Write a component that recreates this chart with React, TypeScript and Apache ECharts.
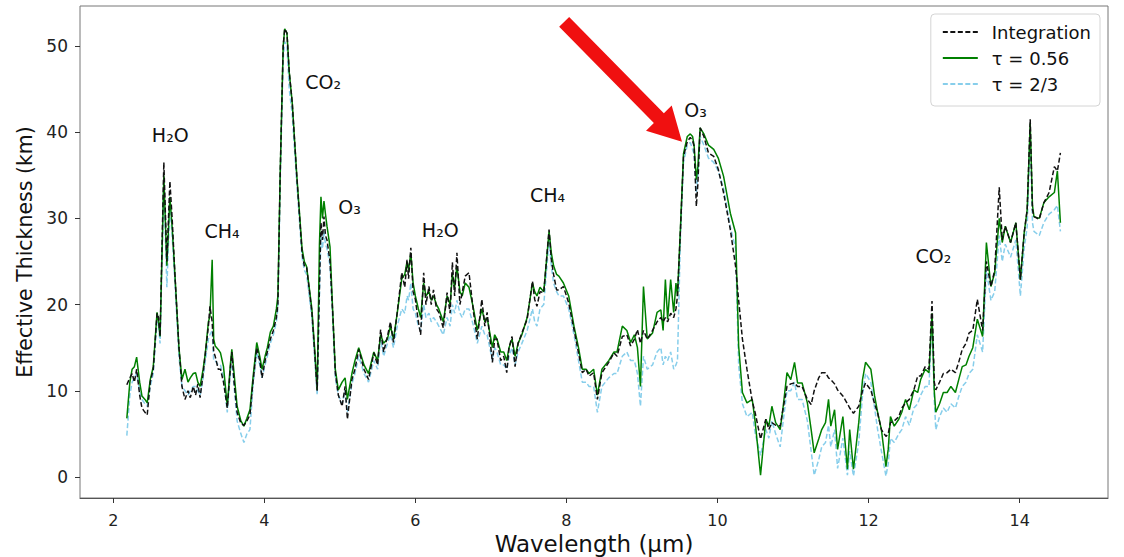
import React, { useEffect, useRef } from "react";
import * as echarts from "echarts";

// Wavelength grid (µm)
const wavelength = [
  2.18, 2.22, 2.25, 2.28, 2.31, 2.35, 2.38, 2.42, 2.45, 2.49, 2.53, 2.58, 2.60, 2.62, 2.67, 2.71, 2.75, 2.78, 2.82, 2.87, 2.91, 2.95, 2.99,
  3.02, 3.06, 3.09, 3.12, 3.15, 3.19, 3.22, 3.26, 3.28, 3.31, 3.33, 3.35, 3.39, 3.42, 3.46, 3.51, 3.55, 3.57, 3.60, 3.64, 3.69, 3.73, 3.77, 3.81, 3.85, 3.90, 3.94, 3.97,
  4.01, 4.04, 4.08, 4.12, 4.16, 4.18, 4.21, 4.25, 4.27, 4.30, 4.33, 4.37, 4.43, 4.50, 4.53, 4.56, 4.63, 4.67, 4.70, 4.73, 4.75, 4.77, 4.79, 4.81, 4.83, 4.87, 4.91, 4.94, 4.98,
  5.03, 5.07, 5.10, 5.16, 5.20, 5.25, 5.32, 5.38, 5.45, 5.50, 5.54, 5.58, 5.63, 5.67, 5.71, 5.76, 5.82, 5.86, 5.89, 5.91, 5.94, 5.97,
  6.00, 6.04, 6.07, 6.11, 6.14, 6.18, 6.21, 6.24, 6.28, 6.31, 6.37, 6.42, 6.46, 6.49, 6.52, 6.55, 6.59, 6.62, 6.66, 6.71, 6.77, 6.82, 6.88, 6.92, 6.95,
  7.02, 7.05, 7.08, 7.13, 7.17, 7.21, 7.24, 7.28, 7.32, 7.36, 7.41, 7.48, 7.55, 7.58, 7.61, 7.65, 7.70, 7.77, 7.80, 7.83, 7.87, 7.90, 7.96,
  8.03, 8.10, 8.16, 8.21, 8.26, 8.30, 8.36, 8.41, 8.47, 8.56, 8.63, 8.67, 8.74, 8.80, 8.85, 8.90, 8.94, 8.98,
  9.02, 9.07, 9.14, 9.20, 9.25, 9.28, 9.31, 9.34, 9.38, 9.42, 9.45, 9.47, 9.51, 9.55, 9.60, 9.64, 9.67, 9.69, 9.72, 9.74, 9.77, 9.82, 9.88, 9.95,
  10.01, 10.08, 10.17, 10.24, 10.28, 10.33, 10.39, 10.46, 10.50, 10.57, 10.64, 10.68, 10.72, 10.77, 10.83, 10.87, 10.92, 10.97,
  11.02, 11.06, 11.12, 11.19, 11.24, 11.28, 11.34, 11.38, 11.43, 11.47, 11.50, 11.55, 11.59, 11.66, 11.72, 11.75, 11.80, 11.87, 11.92, 11.96,
  12.03, 12.08, 12.12, 12.17, 12.23, 12.26, 12.29, 12.34, 12.40, 12.44, 12.49, 12.54, 12.60, 12.65, 12.69, 12.75, 12.80, 12.84, 12.87, 12.89, 12.94, 12.99,
  13.04, 13.09, 13.15, 13.20, 13.24, 13.29, 13.33, 13.38, 13.44, 13.51, 13.56, 13.62, 13.67, 13.73, 13.77, 13.81, 13.88, 13.95,
  14.01, 14.06, 14.10, 14.14, 14.17, 14.19, 14.26, 14.32, 14.39, 14.46, 14.50, 14.54,
];

// Effective thickness (km) — Integration
const integration = [
  10.7, 11.5, 12.0, 11.0, 12.5, 9.5, 8.0, 7.5, 7.2, 11.0, 12.5, 19.0, 18.5, 16.3, 36.5, 25.0, 34.3, 30.0, 22.9, 15.0, 10.5, 9.0, 10.0,
  9.2, 10.5, 9.5, 10.8, 9.2, 12.0, 14.4, 17.5, 19.8, 18.0, 14.5, 14.0, 12.5, 12.5, 11.0, 8.0, 12.5, 14.5, 11.0, 7.5, 6.2, 6.0, 6.5, 7.2, 11.0, 15.0, 13.5, 11.5,
  13.5, 14.5, 16.0, 17.0, 18.5, 20.0, 35.0, 50.0, 52.0, 51.5, 47.0, 43.4, 34.9, 26.0, 24.5, 24.4, 19.1, 14.0, 10.0, 22.0, 29.5, 27.5, 30.2, 28.0, 27.5, 25.0, 18.3, 12.1, 9.5,
  8.2, 10.5, 6.7, 11.3, 12.5, 14.8, 12.5, 11.3, 14.4, 13.0, 17.1, 14.5, 16.3, 18.0, 15.6, 19.1, 23.7, 22.0, 25.2, 23.0, 26.6, 21.5,
  20.6, 18.0, 16.5, 23.7, 20.0, 22.1, 20.0, 21.7, 19.5, 19.1, 17.3, 21.4, 19.0, 24.9, 21.0, 26.0, 20.0, 21.4, 23.3, 23.7, 19.1, 16.0, 20.6, 17.5, 19.1,
  13.3, 16.0, 16.0, 13.5, 14.0, 12.1, 15.0, 16.3, 12.8, 15.5, 16.7, 18.3, 22.7, 20.6, 19.8, 21.5, 21.4, 28.7, 25.2, 23.5, 21.7, 21.7, 22.1,
  20.2, 17.1, 14.4, 12.1, 12.5, 11.7, 12.1, 9.0, 12.1, 13.3, 14.4, 14.0, 16.3, 16.5, 15.2, 16.0, 17.1, 15.5,
  17.0, 16.0, 17.0, 18.0, 18.5, 18.0, 18.5, 18.0, 19.0, 18.5, 19.5, 21.0, 28.7, 37.2, 38.9, 39.4, 39.0, 38.4, 31.4, 34.0, 40.5, 39.5, 37.6, 37.2,
  35.7, 33.0, 28.7, 24.4, 20.5, 16.0, 12.5, 8.8, 7.4, 4.4, 6.7, 5.5, 6.3, 6.0, 5.9, 8.0, 10.5, 10.8,
  10.9, 10.5, 10.5, 9.0, 8.4, 10.0, 11.5, 12.1, 12.1, 11.5, 11.3, 10.8, 10.1, 9.4, 8.5, 8.0, 7.4, 8.2, 10.0, 10.9,
  10.1, 8.5, 7.4, 5.5, 4.7, 5.0, 6.3, 6.5, 7.0, 8.0, 8.6, 9.0, 10.1, 11.7, 11.7, 12.8, 12.5, 20.4, 11.0, 10.1, 11.0, 12.0,
  12.1, 12.5, 12.1, 13.5, 14.8, 15.5, 16.7, 17.0, 20.6, 17.0, 25.0, 22.1, 24.0, 33.6, 27.5, 29.1, 27.2, 29.5,
  22.9, 28.3, 31.0, 41.5, 31.0, 30.2, 29.9, 31.8, 33.0, 36.0, 35.5, 37.6,
];

// τ = 0.56
const tau056 = [
  6.8, 11.0, 12.5, 12.8, 13.9, 11.0, 9.4, 9.0, 8.6, 11.3, 12.8, 19.1, 18.0, 16.3, 35.0, 24.5, 32.5, 29.0, 23.0, 15.0, 11.3, 12.5, 11.0,
  11.5, 12.0, 12.1, 11.0, 10.5, 12.5, 14.4, 18.0, 18.6, 25.2, 16.0, 15.2, 14.8, 14.4, 12.8, 8.2, 13.0, 14.8, 12.0, 8.2, 6.5, 5.9, 6.8, 7.8, 11.5, 15.6, 14.0, 12.5,
  14.0, 15.0, 16.8, 17.5, 19.5, 21.0, 35.0, 50.0, 52.0, 51.5, 47.0, 43.4, 35.0, 26.5, 25.0, 24.4, 19.5, 14.5, 10.1, 27.0, 32.5, 30.0, 32.0, 30.5, 29.1, 26.7, 18.3, 12.5, 10.1,
  11.0, 11.5, 9.0, 12.0, 13.5, 15.0, 13.0, 12.0, 14.5, 13.5, 16.5, 15.5, 16.0, 17.5, 16.0, 19.0, 23.0, 23.5, 25.0, 24.0, 26.0, 22.5,
  21.0, 19.5, 18.5, 22.5, 21.0, 21.5, 20.5, 21.0, 20.0, 19.5, 18.0, 21.0, 20.0, 23.5, 22.0, 24.5, 21.5, 21.0, 22.5, 22.0, 19.5, 17.0, 19.5, 18.0, 18.5,
  15.0, 16.5, 16.0, 14.5, 14.5, 13.5, 15.0, 16.0, 14.0, 15.5, 16.5, 18.5, 22.5, 21.5, 21.0, 22.0, 21.5, 28.5, 26.0, 24.5, 23.5, 23.3, 22.5,
  21.0, 17.5, 15.0, 12.5, 12.5, 12.0, 12.5, 9.5, 12.5, 13.5, 14.5, 14.5, 17.5, 17.0, 15.6, 16.5, 15.0, 10.5,
  22.1, 16.0, 16.7, 19.1, 19.4, 17.0, 22.9, 18.3, 22.9, 19.1, 22.5, 21.0, 29.0, 37.5, 39.5, 39.8, 39.5, 38.5, 34.5, 36.0, 40.5, 39.8, 38.5, 38.0,
  37.0, 34.9, 30.6, 28.3, 15.2, 9.8, 8.6, 9.0, 6.3, 0.2, 6.7, 5.9, 8.2, 6.3, 5.5, 8.2, 12.1, 11.3,
  13.3, 10.9, 10.9, 8.6, 5.5, 2.8, 4.4, 5.5, 6.3, 9.0, 5.9, 7.8, 3.2, 7.0, 0.9, 5.5, 0.9, 6.3, 11.3, 13.3,
  12.5, 9.4, 7.5, 5.5, 1.2, 3.2, 7.0, 5.9, 6.7, 7.5, 9.0, 7.8, 10.1, 9.8, 11.3, 12.5, 12.1, 19.0, 10.0, 7.5, 8.5, 9.8,
  9.8, 10.5, 9.8, 11.5, 12.8, 13.0, 14.0, 15.0, 18.3, 16.3, 27.2, 22.1, 23.7, 30.0, 27.2, 29.1, 27.2, 29.5,
  22.9, 28.3, 31.0, 41.0, 31.5, 30.2, 30.0, 31.8, 32.5, 33.0, 35.5, 29.5,
];

// τ = 2/3
const tau23 = [
  4.8, 9.5, 11.0, 11.5, 12.0, 10.0, 9.0, 8.5, 8.2, 10.5, 12.0, 18.0, 17.5, 15.5, 34.0, 22.0, 31.5, 28.0, 22.0, 14.0, 10.5, 10.0, 9.5,
  10.0, 10.5, 10.5, 10.0, 9.5, 11.5, 13.5, 16.0, 16.5, 17.0, 13.5, 13.5, 13.0, 13.0, 11.5, 7.5, 12.0, 13.5, 10.5, 6.5, 5.0, 4.0, 5.0, 5.5, 10.5, 14.5, 13.0, 11.5,
  13.0, 14.0, 15.5, 16.5, 18.0, 19.5, 34.0, 48.5, 50.5, 50.0, 45.0, 42.0, 34.0, 25.5, 24.0, 23.5, 18.5, 13.5, 9.5, 21.0, 28.0, 26.5, 28.5, 27.0, 26.5, 24.5, 17.5, 11.5, 9.5,
  8.5, 10.0, 7.5, 10.8, 12.0, 14.0, 12.0, 11.0, 13.5, 12.5, 16.0, 14.0, 15.5, 16.5, 15.0, 17.5, 19.5, 19.0, 21.0, 20.5, 22.5, 19.5,
  19.0, 17.5, 17.0, 20.0, 18.5, 19.0, 18.0, 18.5, 18.0, 17.5, 16.5, 18.5, 17.5, 20.0, 19.0, 20.5, 19.0, 18.5, 19.5, 19.5, 17.5, 15.5, 17.5, 16.5, 16.5,
  13.5, 15.0, 14.5, 13.0, 13.0, 12.5, 14.0, 15.0, 13.0, 14.5, 15.5, 17.0, 19.5, 18.0, 17.5, 19.5, 20.0, 27.5, 24.5, 22.5, 21.5, 21.0, 21.0,
  19.5, 16.5, 13.5, 11.0, 11.0, 10.5, 10.5, 7.5, 10.5, 11.5, 12.0, 12.0, 14.0, 14.5, 13.5, 13.5, 12.0, 8.2,
  14.0, 12.5, 13.0, 14.5, 15.0, 13.0, 14.0, 13.5, 14.5, 12.5, 13.0, 13.5, 28.0, 36.5, 38.5, 38.8, 38.0, 37.5, 33.0, 35.0, 39.5, 38.5, 37.0, 36.5,
  35.5, 33.5, 29.0, 26.5, 13.0, 8.5, 7.0, 7.5, 5.0, 2.5, 5.5, 4.5, 6.5, 5.0, 3.5, 6.5, 10.0, 10.0,
  11.0, 9.0, 9.0, 6.5, 3.0, 0.2, 2.0, 3.5, 4.0, 6.0, 3.5, 5.5, 1.0, 4.5, 0.2, 3.0, 0.1, 4.0, 9.5, 12.0,
  11.0, 8.0, 5.5, 3.0, 0.1, 1.5, 4.5, 4.0, 5.0, 5.5, 7.0, 6.0, 8.0, 8.5, 9.5, 10.5, 10.5, 18.5, 9.0, 5.5, 7.0, 8.0,
  7.5, 8.5, 8.0, 9.5, 10.5, 11.0, 12.0, 12.5, 16.5, 14.5, 24.0, 20.5, 21.5, 28.0, 25.0, 27.0, 25.5, 27.5,
  21.0, 26.5, 29.0, 40.0, 29.5, 28.5, 28.0, 29.5, 30.5, 31.0, 31.5, 28.5,
];

const xTicks = [2, 4, 6, 8, 10, 12, 14];
const yTicks = [0, 10, 20, 30, 40, 50];

const moleculeNames = ["H₂O", "CH₄", "CO₂", "O₃", "H₂O", "CH₄", "O₃", "CO₂"];
const moleculeX = [2.755, 3.44, 4.78, 5.13, 6.33, 7.75, 9.71, 12.86];
const moleculeY = [39.7, 28.5, 45.8, 31.3, 28.7, 32.7, 42.6, 25.6];

// arrow (data coordinates): from tail to tip
const arrowTail = [7.97, 52.8];
const arrowTip = [9.53, 38.9];

const FONT = "DejaVu Sans";

export default function App() {
  const ref = useRef<HTMLDivElement>(null);

  useEffect(() => {
    if (!ref.current) return;
    const chart = echarts.init(ref.current, undefined, { renderer: "svg" });

    const pairs = (vals: number[]) => wavelength.map((w, i) => [w, vals[i]]);

    chart.setOption({
      animation: false,
      textStyle: { fontFamily: FONT },
      grid: {
        left: 80,
        right: 16,
        top: 6,
        bottom: 59,
        show: true,
        borderColor: "#777",
        borderWidth: 1,
        backgroundColor: "transparent",
        containLabel: false,
        outerBoundsMode: "none",
      },
      xAxis: {
        type: "value",
        min: 1.56,
        max: 15.17,
        name: "Wavelength (µm)",
        nameLocation: "middle",
        nameGap: 18,
        nameTextStyle: { fontSize: 23, color: "#111", fontFamily: FONT },
        axisLine: { show: true, onZero: false, lineStyle: { color: "#555", width: 1 } },
        axisTick: {
          show: true,
          length: 5,
          customValues: xTicks,
          lineStyle: { color: "#333" },
        },
        axisLabel: {
          customValues: xTicks,
          fontSize: 16,
          color: "#222",
          margin: 14,
          fontFamily: FONT,
        },
        splitLine: { show: false },
      },
      yAxis: {
        type: "value",
        min: -2.44,
        max: 54.64,
        name: "Effective Thickness (km)",
        nameLocation: "middle",
        nameGap: 27,
        nameTextStyle: { fontSize: 20.5, color: "#111", fontFamily: FONT },
        axisLine: { show: false, onZero: false },
        axisTick: {
          show: true,
          length: 5,
          customValues: yTicks,
          lineStyle: { color: "#333" },
        },
        axisLabel: {
          customValues: yTicks,
          fontSize: 17,
          color: "#222",
          margin: 12,
          fontFamily: FONT,
        },
        splitLine: { show: false },
      },
      legend: {
        data: ["Integration", "τ = 0.56", "τ = 2/3"],
        orient: "vertical",
        right: 24,
        top: 14,
        itemWidth: 35,
        itemHeight: 14,
        itemGap: 6,
        padding: [8, 9, 12, 11],
        backgroundColor: "#fff",
        borderColor: "#d4d4d4",
        borderWidth: 1,
        borderRadius: 4,
        itemStyle: { color: "rgba(0,0,0,0)", borderColor: "rgba(0,0,0,0)", borderWidth: 0, opacity: 0 },
        textStyle: {
          fontSize: 18,
          color: "#111",
          fontFamily: FONT,
          lineHeight: 20,
          padding: [0, 0, 0, 9],
        },
      },
      series: [
        {
          name: "τ = 2/3",
          type: "line",
          data: pairs(tau23),
          symbol: "none",
          showSymbol: false,
          z: 2,
          itemStyle: { color: "#87CEEB" },
          lineStyle: { color: "#87CEEB", width: 1.5, type: [5, 2.5] },
        },
        {
          name: "τ = 0.56",
          type: "line",
          data: pairs(tau056),
          symbol: "none",
          showSymbol: false,
          z: 3,
          itemStyle: { color: "#008000" },
          lineStyle: { color: "#008000", width: 1.5, type: "solid" },
        },
        {
          name: "Integration",
          type: "line",
          data: pairs(integration),
          symbol: "none",
          showSymbol: false,
          z: 4,
          itemStyle: { color: "#111" },
          lineStyle: { color: "#111", width: 1.5, type: [5, 2.5] },
        },
      ],
    });

    // Molecule labels, placed from data coordinates
    const labelEls = moleculeNames.map((n, i) => {
      const p = chart.convertToPixel({ gridIndex: 0 }, [moleculeX[i], moleculeY[i]]) as number[];
      return {
        type: "text",
        z: 50,
        silent: true,
        x: p[0],
        y: p[1],
        style: {
          text: n,
          fill: "#111",
          font: `19px "${FONT}"`,
          align: "center",
          verticalAlign: "middle",
        },
      };
    });

    // Red arrow annotation, placed from data coordinates
    const tail = chart.convertToPixel({ gridIndex: 0 }, arrowTail) as number[];
    const tip = chart.convertToPixel({ gridIndex: 0 }, arrowTip) as number[];
    const dx = tip[0] - tail[0];
    const dy = tip[1] - tail[1];
    const len = Math.sqrt(dx * dx + dy * dy);
    const ux = dx / len;
    const uy = dy / len;
    const nx = -uy;
    const ny = ux;
    const shaftHalf = 7;
    const headHalf = 18;
    const headLen = 33;
    const bx = tip[0] - ux * headLen;
    const by = tip[1] - uy * headLen;
    const pts = [
      [tail[0] + nx * shaftHalf, tail[1] + ny * shaftHalf],
      [bx + nx * shaftHalf, by + ny * shaftHalf],
      [bx + nx * headHalf, by + ny * headHalf],
      [tip[0], tip[1]],
      [bx - nx * headHalf, by - ny * headHalf],
      [bx - nx * shaftHalf, by - ny * shaftHalf],
      [tail[0] - nx * shaftHalf, tail[1] - ny * shaftHalf],
    ];
    chart.setOption({
      graphic: [
        ...labelEls,
        {
          type: "polygon",
          z: 100,
          silent: true,
          shape: { points: pts },
          style: { fill: "#f01010", stroke: "none" },
        },
      ],
    });

    return () => {
      chart.dispose();
    };
  }, []);

  return (
    <div
      ref={ref}
      style={{ position: "fixed", left: 0, top: 0, width: 1124, height: 557, background: "#fff" }}
    />
  );
}
